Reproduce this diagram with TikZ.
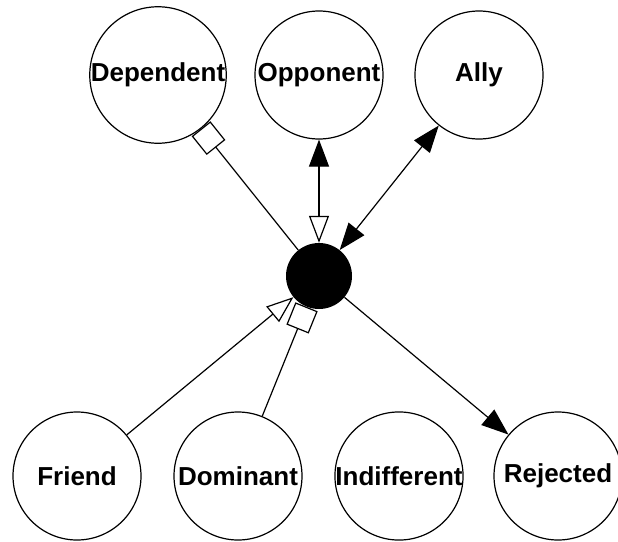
\documentclass[tikz,border=0pt]{standalone}
\usepackage{fontspec}
\setmainfont{Liberation Sans}
\usetikzlibrary{arrows.meta}

\begin{document}
\begin{tikzpicture}[
  x=1pt, y=-1pt,
  every node/.style={font=\fontsize{26}{28}\selectfont\bfseries},
  rolenode/.style={circle, draw=black, fill=white, line width=1.2pt, minimum size=128pt, inner sep=0pt},
  hubnode/.style={circle, fill=black, minimum size=66pt, inner sep=0pt},
  link/.style={line width=1.2pt},
]
\useasboundingbox (0,0) rectangle (618,541);

% hub in the middle
\node[hubnode] (hub) at (319, 276) {};

% top row
\node[rolenode] (dep) at (158, 75) {Dependent};
\node[rolenode] (opp) at (319, 75) {Opponent};
\node[rolenode] (ally) at (479, 75) {Ally};

% bottom row
\node[rolenode] (fri) at (77, 476) {Friend};
\node[rolenode] (dom) at (238, 476) {Dominant};
\node[rolenode] (ind) at (399, 476) {Indifferent};
\node[rolenode] (rej) at (558, 476) {Rejected};

\draw[link, {Square[open, length=24pt, width=24pt]}-] (dep) -- (hub);
\draw[link, {Triangle[length=27pt, width=20pt]}-{Triangle[open, length=27pt, width=20pt]}] (opp) -- (hub);
\draw[link, {Triangle[length=27pt, width=20pt]}-{Triangle[length=27pt, width=20pt]}] (ally) -- (hub);
\draw[link, -{Triangle[length=27pt, width=20pt]}] (hub) -- (rej);
\draw[link, -{Triangle[open, length=27pt, width=20pt]}] (fri) -- (hub);
\draw[link, -{Square[open, length=24pt, width=24pt]}] (dom) -- (hub);

\end{tikzpicture}
\end{document}
